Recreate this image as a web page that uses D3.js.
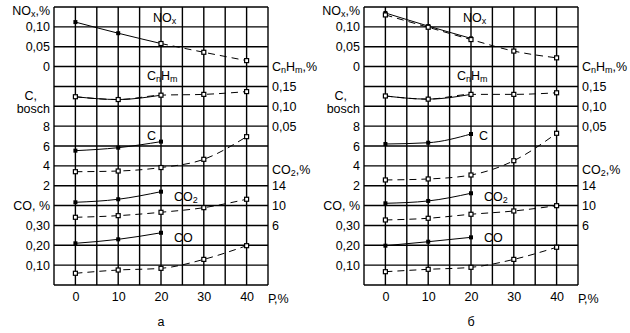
<!DOCTYPE html>
<html>
<head>
<meta charset="utf-8">
<script src="https://cdn.jsdelivr.net/npm/d3@7"></script>
<style>
  body { margin: 0; background: #fff; }
  svg text { font-family: "Liberation Sans Narrow", "Arial Narrow", "Liberation Sans", Arial, sans-serif; font-size: 12.5px; fill: #000; }
  .grid line { stroke: #000; stroke-width: 1.4; }
  .curve { fill: none; stroke: #000; stroke-width: 1; }
  .dash { stroke-dasharray: 7 5; }
</style>
</head>
<body>
<svg id="chart" width="630" height="333"></svg>
<script>
const xs = [0, 10, 20, 30, 40]
const xsShort = [0, 10, 20]

// panel a
const noxSolidA = [0.112, 0.084, 0.058]
const noxDashA = [null, null, 0.058, 0.036, 0.015]
const cnhmSolidA = [0.124, 0.117, 0.128]
const cnhmDashA = [0.124, 0.117, 0.128, 0.130, 0.137]
const cSolidA = [5.53, 5.83, 6.44]
const cDashA = [3.41, 3.48, 3.83, 4.66, 6.94]
const co2SolidA = [10.66, 11.27, 12.8]
const co2DashA = [7.64, 7.97, 8.65, 9.58, 11.27]
const coSolidA = [0.21, 0.23, 0.263]
const coDashA = [0.059, 0.0755, 0.084, 0.129, 0.198]

// panel б
const noxSolidB = [0.135, 0.102, 0.071]
const noxDashB = [0.130, 0.099, 0.068, 0.039, 0.022]
const cnhmSolidB = [0.126, 0.118, 0.130]
const cnhmDashB = [0.126, 0.118, 0.130, 0.130, 0.134]
const cSolidB = [6.20, 6.33, 7.21]
const cDashB = [2.58, 2.68, 3.08, 4.52, 7.28]
const co2SolidB = [10.46, 10.93, 12.48]
const co2DashB = [7.10, 7.44, 8.25, 8.91, 9.98]
const coSolidB = [0.198, 0.218, 0.240]
const coDashB = [0.067, 0.079, 0.089, 0.129, 0.190]

const xTicks = [0, 10, 20, 30, 40]
const noxTicks = [0.10, 0.05, 0]
const cTicks = [8, 6, 4, 2]
const coTicks = [0.30, 0.20, 0.10]
const cnhmTicks = [0.15, 0.10, 0.05]
const co2Ticks = [14, 10, 6]
const panelNames = ['а', 'б']

const panels = [
  { name: panelNames[0], dx: 0, series: [
    [noxSolidA, noxDashA, 'nox'], [cnhmSolidA, cnhmDashA, 'cnhm'], [cSolidA, cDashA, 'c'],
    [co2SolidA, co2DashA, 'co2'], [coSolidA, coDashA, 'co']] },
  { name: panelNames[1], dx: 310, series: [
    [noxSolidB, noxDashB, 'nox'], [cnhmSolidB, cnhmDashB, 'cnhm'], [cSolidB, cDashB, 'c'],
    [co2SolidB, co2DashB, 'co2'], [coSolidB, coDashB, 'co']] }
]

const comma = d3.formatLocale({ decimal: ',', thousands: ' ', grouping: [3], currency: ['', ''] })
const f2 = comma.format('.2f')
const fd = d3.format('d')

const svg = d3.select('#chart')
const x = d3.scaleLinear().domain([-5, 45]).range([54, 268])
const row = d3.scaleLinear().domain([0, 14]).range([7, 285])
const y = {
  nox: d3.scaleLinear().domain([0, 0.1]).range([row(3), row(1)]),
  cnhm: d3.scaleLinear().domain([0.05, 0.15]).range([row(6), row(4)]),
  c: d3.scaleLinear().domain([2, 8]).range([row(9), row(6)]),
  co2: d3.scaleLinear().domain([6, 14]).range([row(11), row(9)]),
  co: d3.scaleLinear().domain([0.1, 0.3]).range([row(13), row(11)])
}

// parts: [text, isSub]
function label (g, px, py, parts, anchor) {
  const t = g.append('text').attr('x', px).attr('y', py).attr('text-anchor', anchor || 'start')
  let down = false
  parts.forEach(([s, isSub]) => {
    const ts = t.append('tspan').text(s)
    if (isSub) {
      ts.style('font-size', '9px').attr('dy', down ? 0 : 2)
      down = true
    } else {
      if (down) ts.attr('dy', -2)
      down = false
    }
  })
  return t
}

function axis (g, gen, tx) {
  const a = g.append('g').attr('transform', `translate(${tx},0)`).call(gen)
  a.select('.domain').remove()
  a.selectAll('text').style('font-size', '12.5px').attr('fill', '#000')
}

panels.forEach(p => {
  const g = svg.append('g').attr('transform', `translate(${p.dx},0)`)

  const grid = g.append('g').attr('class', 'grid')
  grid.selectAll('.v').data(d3.range(-5, 46, 5)).join('line')
    .attr('x1', d => x(d)).attr('x2', d => x(d)).attr('y1', row(0)).attr('y2', row(14))
  grid.selectAll('.h').data(d3.range(0, 15)).join('line')
    .attr('x1', x(-5)).attr('x2', x(45)).attr('y1', d => row(d)).attr('y2', d => row(d))

  // left axes
  axis(g, d3.axisLeft(y.nox).tickValues(noxTicks).tickSize(0).tickPadding(4).tickFormat(d => d === 0 ? '0' : f2(d)), x(-5))
  axis(g, d3.axisLeft(y.c).tickValues(cTicks).tickSize(0).tickPadding(4).tickFormat(fd), x(-5))
  axis(g, d3.axisLeft(y.co).tickValues(coTicks).tickSize(0).tickPadding(4).tickFormat(f2), x(-5))
  // right axes
  axis(g, d3.axisRight(y.cnhm).tickValues(cnhmTicks).tickSize(0).tickPadding(4).tickFormat(f2), x(45))
  axis(g, d3.axisRight(y.co2).tickValues(co2Ticks).tickSize(0).tickPadding(4).tickFormat(fd), x(45))
  // bottom
  const xa = g.append('g').attr('transform', `translate(0,${row(14)})`)
    .call(d3.axisBottom(x).tickValues(xTicks).tickSize(0).tickPadding(7))
  xa.select('.domain').remove()
  xa.selectAll('text').style('font-size', '12.5px').attr('fill', '#000')

  // axis titles
  label(g, 50, 15, [['NO', 0], ['x', 1], [',%', 0]], 'end')
  label(g, 37, 100, [['C,', 0]], 'end')
  label(g, 50, 113, [['bosch', 0]], 'end')
  label(g, 50, 210, [['CO, %', 0]], 'end')
  label(g, 272, 71, [['C', 0], ['n', 1], ['H', 0], ['m', 1], [',%', 0]])
  label(g, 272, 174, [['CO', 0], ['2', 1], [',%', 0]])
  label(g, 268, 303, [['Р,%', 0]])
  g.append('text').attr('x', x(20)).attr('y', 326).attr('text-anchor', 'middle').text(p.name)

  // in-chart labels
  const cx = p.dx === 0 ? 147 : 169
  label(g, 153, 22, [['NO', 0], ['x', 1]])
  label(g, 147, 80, [['C', 0], ['n', 1], ['H', 0], ['m', 1]])
  label(g, cx, 140, [['C', 0]])
  label(g, 174, 201, [['CO', 0], ['2', 1]])
  label(g, 174, 242, [['CO', 0]])

  // curves
  p.series.forEach(([solid, dash, key]) => {
    const sc = y[key]
    const ptsS = solid.map((v, i) => [xsShort[i], v])
    const ptsD = dash.map((v, i) => [xs[i], v]).filter(d => d[1] !== null)
    const line = d3.line().x(d => x(d[0])).y(d => sc(d[1])).curve(d3.curveMonotoneX)
    g.append('path').datum(ptsS).attr('class', 'curve').attr('d', line)
    g.append('path').datum(ptsD).attr('class', 'curve dash').attr('d', line)
    g.selectAll(null).data(ptsS).join('rect')
      .attr('x', d => x(d[0]) - 2).attr('y', d => sc(d[1]) - 2).attr('width', 4).attr('height', 4)
      .attr('fill', '#000')
    g.selectAll(null).data(ptsD).join('rect')
      .attr('x', d => x(d[0]) - 2).attr('y', d => sc(d[1]) - 2).attr('width', 4).attr('height', 4)
      .attr('fill', '#fff').attr('stroke', '#000').attr('stroke-width', 1.2)
  })
})
</script>
</body>
</html>
